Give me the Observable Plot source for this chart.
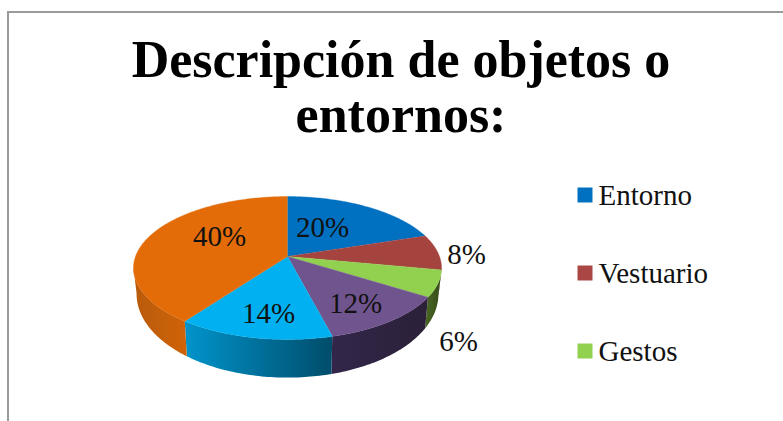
<!DOCTYPE html>
<html lang="es">
<head>
<meta charset="utf-8">
<script src="https://cdn.jsdelivr.net/npm/d3@7"></script>
<script src="https://cdn.jsdelivr.net/npm/@observablehq/plot@0.6"></script>
<style>
  html, body { margin: 0; padding: 0; background: #fff; overflow: hidden; }
  #page { position: relative; width: 783px; height: 421px; overflow: hidden; font-family: "Liberation Serif", serif; }
  #frame { position: absolute; left: 7px; top: 11px; width: 800px; height: 440px; border: 2px solid #9a9a9a; box-sizing: border-box; }
  h1 { position: absolute; left: 0; top: 32px; width: 802px; margin: 0; text-align: center; font: bold 52px/55px "Liberation Serif", serif; color: #000; }
  #chart { position: absolute; left: 0; top: 0; }
</style>
</head>
<body>
<div id="page">
  <div id="frame"></div>
  <h1>Descripción de objetos o<br>entornos:</h1>
  <div id="chart"></div>
</div>
<script>
// Data, clockwise from twelve o'clock
const categories = ["Entorno", "Vestuario", "Gestos", "Postura", "Rostro", "Otros"];
const values = [20, 8, 6, 12, 14, 40];
const topColors = ["#0070C0", "#A5433F", "#92D050", "#70548E", "#00B0F0", "#E36C09"];
const wallFrom = ["#005a99", "#843634", "#4a6826", "#33264a", "#0094cb", "#b95b0c"];
const wallTo = ["#005a99", "#843634", "#354a17", "#2b2038", "#004d6b", "#cf6308"];
const legendCategories = ["Entorno", "Vestuario", "Gestos"];
const legendColors = ["#0070C0", "#AA4644", "#92D050"];

// Pie geometry: a disk seen in perspective
const cx = 287, cy = 256, R = 152, B = 69.6, K = 0.161;
const ellipseCy = 267.5, wallCy = 293.5, wallSx = 0.98, wallSy = 1.17;
const visibleFrom = 99, visibleTo = 261;

function rim(deg) {
  const a = deg * Math.PI / 180, u = Math.sin(a), v = -Math.cos(a), d = 1 - K * v;
  return [cx + R * u / d, cy + B * v / d];
}
function lowerRim(deg) {
  const [x, y] = rim(deg);
  return [cx + wallSx * (x - cx), wallCy + wallSy * (y - ellipseCy)];
}
function arc(a0, a1) {
  const n = Math.max(2, Math.ceil(Math.abs(a1 - a0)));
  return d3.range(n + 1).map(i => a0 + (a1 - a0) * i / n);
}

const total = d3.sum(values);
const stops = d3.cumsum(values).map(c => c / total * 360);
const spans = values.map((_, i) => [i ? stops[i - 1] : 0, stops[i]]);

const tops = [], walls = [];
spans.forEach(([a0, a1], i) => {
  const fill = topColors[i], slice = categories[i];
  [[cx, cy], ...arc(a0, a1).map(rim)].forEach(([x, y]) => tops.push({slice, fill, x, y}));
  const w0 = Math.max(a0, visibleFrom), w1 = Math.min(a1, visibleTo);
  if (w1 > w0) {
    const f = `url(#wall${i})`;
    arc(w0, w1).map(rim).forEach(([x, y]) => walls.push({slice, fill: f, x, y}));
    arc(w1, w0).map(lowerRim).forEach(([x, y]) => walls.push({slice, fill: f, x, y}));
  }
});

const gradients = () => {
  const defs = d3.create("svg:defs");
  categories.forEach((_, i) => {
    const g = defs.append("linearGradient").attr("id", `wall${i}`).attr("x1", 0).attr("x2", 1).attr("y1", 0).attr("y2", 0);
    g.append("stop").attr("offset", 0).attr("stop-color", wallFrom[i]);
    g.append("stop").attr("offset", 1).attr("stop-color", wallTo[i]);
  });
  return defs.node();
};

const labelX = [322, 466, 458, 355, 268, 219];
const labelY = [227, 254, 341, 303, 313, 236];
const sliceLabels = values.map((v, i) => ({t: v + "%", x: labelX[i], y: labelY[i]}));
const legendY = [194.5, 272.5, 350.5];
const legendRows = legendCategories.map((name, i) => ({name, color: legendColors[i], y: legendY[i]}));

const chart = Plot.plot({
  width: 783, height: 421,
  margin: 0,
  x: {domain: [0, 783], range: [0, 783], axis: null},
  y: {domain: [0, 421], range: [0, 421], axis: null},
  color: {type: "identity"},
  style: {background: "transparent", fontFamily: "'Liberation Serif', serif"},
  marks: [
    gradients,
    Plot.line(walls, {x: "x", y: "y", z: "slice", fill: "fill", stroke: null, curve: "linear"}),
    Plot.line(tops, {x: "x", y: "y", z: "slice", fill: "fill", stroke: "fill", strokeWidth: 0.4, curve: "linear"}),
    Plot.text(sliceLabels, {x: "x", y: "y", text: "t", fontSize: 29, fill: "#111"}),
    Plot.dot(legendRows, {x: 584.5, y: "y", symbol: "square", r: 8.46, fill: "color", stroke: null}),
    Plot.text(legendRows, {x: 598, y: d => d.y + 1, text: "name", textAnchor: "start", fontSize: 29, fill: "#111"})
  ]
});
document.getElementById("chart").append(chart);
</script>
</body>
</html>
